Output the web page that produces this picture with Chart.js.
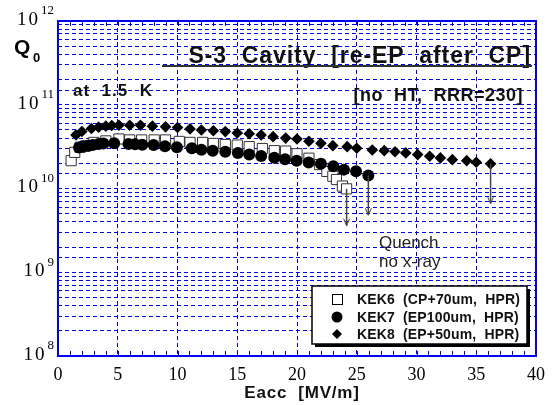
<!DOCTYPE html>
<html>
<head>
<meta charset="utf-8">
<script src="https://cdn.jsdelivr.net/npm/chart.js@4.4.1/dist/chart.umd.min.js"></script>
<style>
  html, body { margin: 0; padding: 0; background: #fff; }
  #wrap { width: 554px; height: 405px; position: relative; }
</style>
</head>
<body>
<div id="wrap"><canvas id="c" width="554" height="405"></canvas></div>
<script>
// ---- data (Eacc in MV/m, Q0) ----
const kek6E = [1.1, 1.4, 1.85, 2.3, 3.0, 4.0, 5.1, 6.0, 7.0, 8.05, 9.0, 10.15, 11.05, 12.1, 13.0, 14.0, 15.0, 16.0, 17.1, 18.1, 19.05, 20.0, 21.0, 21.9, 22.5, 23.0, 23.3, 23.8, 24.15];
const kek6Q = [2.15e10, 2.7e10, 3.1e10, 3.2e10, 3.55e10, 3.7e10, 3.9e10, 3.8e10, 3.8e10, 3.8e10, 3.8e10, 3.65e10, 3.55e10, 3.55e10, 3.45e10, 3.35e10, 3.3e10, 3.16e10, 3.0e10, 2.83e10, 2.8e10, 2.6e10, 2.3e10, 1.93e10, 1.6e10, 1.4e10, 1.28e10, 1.07e10, 0.99e10];

const kek7E = [1.76, 2.1, 2.5, 2.9, 3.4, 3.8, 4.7, 5.9, 6.45, 7.05, 8.0, 8.95, 9.95, 11.2, 12.0, 12.95, 14.0, 15.05, 16.0, 17.0, 18.1, 19.0, 19.97, 20.98, 22.0, 23.04, 23.93, 24.94, 25.97];
const kek7Q = [3.08e10, 3.2e10, 3.25e10, 3.3e10, 3.4e10, 3.45e10, 3.48e10, 3.4e10, 3.37e10, 3.33e10, 3.3e10, 3.19e10, 3.1e10, 3.02e10, 2.91e10, 2.83e10, 2.75e10, 2.65e10, 2.54e10, 2.44e10, 2.33e10, 2.23e10, 2.15e10, 2.04e10, 1.97e10, 1.84e10, 1.68e10, 1.61e10, 1.43e10];

const kek8E = [1.5, 2.0, 2.8, 3.4, 4.0, 4.5, 5.1, 6.0, 6.9, 7.9, 9.0, 10.0, 11.05, 12.0, 13.0, 14.0, 15.0, 16.0, 17.0, 18.0, 19.05, 20.0, 21.0, 22.0, 23.0, 24.2, 25.0, 26.3, 27.3, 28.2, 29.1, 30.1, 31.1, 32.0, 33.0, 34.2, 35.0, 36.2];
const kek8Q = [4.35e10, 4.8e10, 5.2e10, 5.4e10, 5.55e10, 5.65e10, 5.7e10, 5.7e10, 5.7e10, 5.55e10, 5.45e10, 5.35e10, 5.15e10, 5.0e10, 4.9e10, 4.78e10, 4.6e10, 4.5e10, 4.35e10, 4.16e10, 4.0e10, 3.9e10, 3.66e10, 3.46e10, 3.25e10, 3.16e10, 3.02e10, 2.88e10, 2.83e10, 2.75e10, 2.66e10, 2.54e10, 2.43e10, 2.32e10, 2.21e10, 2.15e10, 2.06e10, 1.97e10];

// quench arrows: x, top Q, bottom Q
const arrowE = [24.15, 25.97, 36.2];
const arrowTop = [0.99e10, 1.43e10, 1.97e10];
const arrowBottom = [3.6e9, 4.8e9, 6.6e9];

const seriesLabels = ['KEK6  (CP+70um,  HPR)', 'KEK7  (EP100um,  HPR)', 'KEK8  (EP+50um,  HPR)'];
const xTicks = [0, 5, 10, 15, 20, 25, 30, 35, 40];
const yMajor = [1e8, 1e9, 1e10, 1e11, 1e12];
const yExponents = ['8', '9', '10', '11', '12'];

const toPts = (xs, ys) => xs.map((x, i) => ({ x: x, y: ys[i] }));

const SANS = "'Liberation Sans', Arial, Helvetica, sans-serif";
const SERIF = "'Liberation Serif', 'Times New Roman', Times, serif";
const BLUE = '#0000ee';

function txt(ctx, s, x, y, font, align, spacing, color) {
  ctx.font = font;
  ctx.textAlign = align;
  ctx.letterSpacing = (spacing || 0) + 'px';
  ctx.fillStyle = color || '#111';
  ctx.fillText(s, x, y);
  ctx.letterSpacing = '0px';
}

const overlay = {
  id: 'overlay',
  afterDatasetsDraw(chart) {
    const ctx = chart.ctx;
    const ca = chart.chartArea;
    const xs = chart.scales.x, ys = chart.scales.y;
    ctx.save();

    // arrows
    ctx.strokeStyle = '#444';
    for (let i = 0; i < arrowE.length; i++) {
      const px = xs.getPixelForValue(arrowE[i]);
      const y1 = ys.getPixelForValue(arrowTop[i]);
      const y2 = ys.getPixelForValue(arrowBottom[i]);
      ctx.lineWidth = 1.5;
      ctx.beginPath();
      ctx.moveTo(px, y1); ctx.lineTo(px, y2);
      ctx.stroke();
      ctx.lineWidth = 1;
      ctx.beginPath();
      ctx.moveTo(px - 3, y2 - 7); ctx.lineTo(px, y2); ctx.lineTo(px + 3, y2 - 7);
      ctx.stroke();
    }

    // plot frame
    ctx.strokeStyle = BLUE;
    ctx.lineWidth = 2;
    ctx.strokeRect(ca.left, ca.top, ca.right - ca.left, ca.bottom - ca.top);

    // minor x tick marks (top and bottom, inward)
    ctx.lineWidth = 1;
    for (let v = 1; v < 40; v++) {
      const px = Math.round(xs.getPixelForValue(v)) + 0.5;
      ctx.beginPath();
      ctx.moveTo(px, ca.bottom); ctx.lineTo(px, ca.bottom - 5);
      ctx.moveTo(px, ca.top); ctx.lineTo(px, ca.top + 5);
      ctx.stroke();
    }

    ctx.textBaseline = 'middle';

    // y tick labels 10^n
    for (let i = 0; i < yMajor.length; i++) {
      const py = ys.getPixelForValue(yMajor[i]);
      const ex = yExponents[i];
      ctx.font = '13px ' + SERIF;
      const ew = ctx.measureText(ex).width;
      const right = 54;
      txt(ctx, ex, right, py - 10, '13px ' + SERIF, 'right', 0, '#000');
      txt(ctx, '10', right - ew - 1, py - 1, '19px ' + SERIF, 'right', 2, '#000');
    }

    // x axis title
    txt(ctx, 'Eacc  [MV/m]', 302, 393, 'bold 17px ' + SANS, 'center', 0.8, '#111');

    // title
    txt(ctx, 'S-3  Cavity  [re-EP  after  CP]', 531, 57, 'bold 23px ' + SANS, 'right', 0.95, '#111');
    ctx.strokeStyle = '#333';
    ctx.lineWidth = 2;
    ctx.beginPath();
    ctx.moveTo(162, 66); ctx.lineTo(532, 66);
    ctx.stroke();

    txt(ctx, 'at  1.5  K', 73, 91, 'bold 17px ' + SANS, 'left', 1, '#111');
    txt(ctx, '[no  HT,  RRR=230]', 523, 96, 'bold 18px ' + SANS, 'right', 0.5, '#111');

    txt(ctx, 'Quench', 379, 243, '17px ' + SANS, 'left', 0, '#222');
    txt(ctx, 'no x-ray', 379, 262, '17px ' + SANS, 'left', 0, '#222');

    // Q0 axis label
    txt(ctx, 'Q', 14, 48, 'bold 21px ' + SANS, 'left', 0, '#000');
    txt(ctx, '0', 33, 58, 'bold 13px ' + SANS, 'left', 0, '#000');

    // legend box with shadow
    const bx = 312, by = 286, bw = 215, bh = 58;
    ctx.fillStyle = '#000';
    ctx.fillRect(bx + 3, by + 3, bw, bh);
    ctx.fillStyle = '#fff';
    ctx.fillRect(bx, by, bw, bh);
    ctx.strokeStyle = '#000';
    ctx.lineWidth = 1.5;
    ctx.strokeRect(bx, by, bw, bh);

    const mx = 337;
    const rows = [299, 317, 334];
    ctx.lineWidth = 1;
    ctx.fillStyle = '#fff';
    ctx.fillRect(mx - 5, rows[0] - 5, 10, 10);
    ctx.strokeRect(mx - 5 + 0.5, rows[0] - 5 + 0.5, 10, 10);
    ctx.fillStyle = '#000';
    ctx.beginPath(); ctx.arc(mx, rows[1], 5.5, 0, Math.PI * 2); ctx.fill();
    ctx.beginPath();
    ctx.moveTo(mx - 5, rows[2]); ctx.lineTo(mx, rows[2] - 5); ctx.lineTo(mx + 5, rows[2]); ctx.lineTo(mx, rows[2] + 5);
    ctx.closePath(); ctx.fill();

    for (let i = 0; i < 3; i++) txt(ctx, seriesLabels[i], 357, rows[i] + 1, 'bold 14px ' + SANS, 'left', 0.15, '#111');

    ctx.restore();
  }
};

new Chart(document.getElementById('c'), {
  type: 'scatter',
  data: {
    datasets: [
      { label: seriesLabels[0], data: toPts(kek6E, kek6Q), order: 3,
        pointStyle: 'rect', pointRadius: 7.2, pointHoverRadius: 7.2,
        backgroundColor: '#ffffff', borderColor: '#333333', borderWidth: 1 },
      { label: seriesLabels[1], data: toPts(kek7E, kek7Q), order: 2,
        pointStyle: 'circle', pointRadius: 6, pointHoverRadius: 6,
        backgroundColor: '#000000', borderColor: '#000000', borderWidth: 0 },
      { label: seriesLabels[2], data: toPts(kek8E, kek8Q), order: 1,
        pointStyle: 'rectRot', pointRadius: 5.8, pointHoverRadius: 5.8,
        backgroundColor: '#000000', borderColor: '#000000', borderWidth: 0 }
    ]
  },
  options: {
    responsive: false,
    animation: false,
    events: [],
    layout: { padding: { left: 0, right: 18, top: 21, bottom: 0 } },
    plugins: { legend: { display: false }, tooltip: { enabled: false } },
    scales: {
      x: {
        type: 'linear', min: 0, max: 40,
        afterBuildTicks: (s) => { s.ticks = xTicks.map(v => ({ value: v })); },
        afterFit: (s) => { s.height = 49; },
        grid: { color: BLUE, lineWidth: 1, drawTicks: false },
        border: { display: false, dash: [4, 3] },
        ticks: { color: '#000', padding: 8, font: { family: SERIF, size: 18 }, maxRotation: 0, autoSkip: false },
        title: { display: false, text: 'Eacc  [MV/m]' }
      },
      y: {
        type: 'logarithmic', min: 1e8, max: 1e12,
        afterFit: (s) => { s.width = 58; },
        grid: { color: BLUE, lineWidth: 1, drawTicks: false },
        border: { display: false, dash: [4, 3] },
        ticks: { display: false, autoSkip: false },
        title: { display: false, text: 'Q0' }
      }
    }
  },
  plugins: [overlay]
});
</script>
</body>
</html>
